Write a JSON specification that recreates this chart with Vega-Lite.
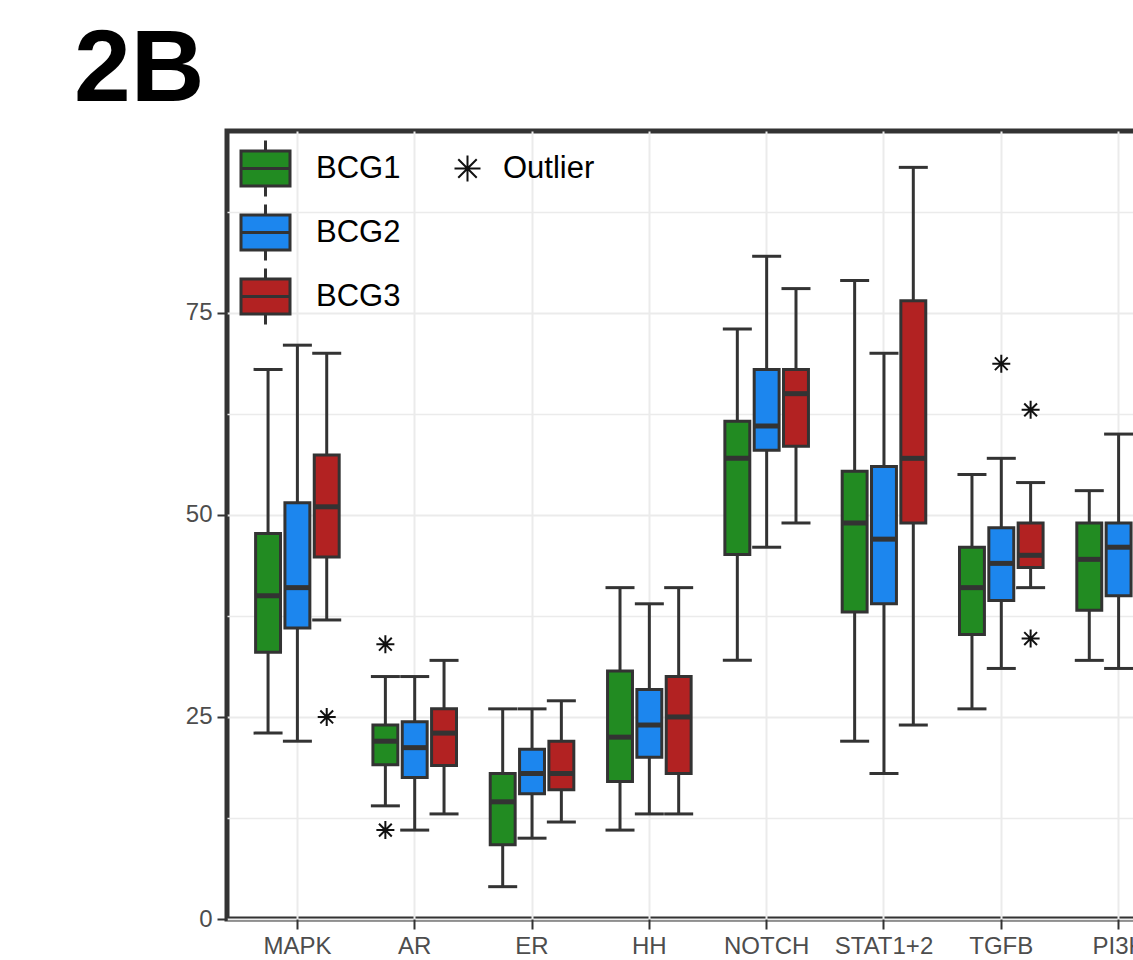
{
  "$schema": "https://vega.github.io/schema/vega-lite/v6.json",
  "autosize": {"type": "none"},
  "padding": {"left": 227, "top": 131, "right": 0, "bottom": 41},
  "width": 962,
  "height": 788,
  "background": "white",
  "title": {
    "text": "2B",
    "font": "Liberation Sans",
    "fontSize": 102,
    "fontWeight": "bold",
    "color": "black",
    "anchor": "start",
    "frame": "group",
    "baseline": "alphabetic",
    "dx": -153,
    "dy": 97,
    "offset": 25
  },
  "config": {
    "view": {"stroke": "#333333", "strokeWidth": 5},
    "font": "Liberation Sans"
  },
  "datasets": {
    "stats": [
      {"pathway": "MAPK", "group": "BCG1", "lo": 23, "q1": 33, "med": 40, "q3": 47.7, "hi": 68},
      {"pathway": "MAPK", "group": "BCG2", "lo": 22, "q1": 36, "med": 41, "q3": 51.5, "hi": 71},
      {"pathway": "MAPK", "group": "BCG3", "lo": 37, "q1": 44.8, "med": 51, "q3": 57.4, "hi": 70},
      {"pathway": "AR", "group": "BCG1", "lo": 14, "q1": 19.1, "med": 22, "q3": 24, "hi": 30},
      {"pathway": "AR", "group": "BCG2", "lo": 11, "q1": 17.5, "med": 21.2, "q3": 24.4, "hi": 30},
      {"pathway": "AR", "group": "BCG3", "lo": 13, "q1": 19, "med": 23, "q3": 26, "hi": 32},
      {"pathway": "ER", "group": "BCG1", "lo": 4, "q1": 9.2, "med": 14.5, "q3": 18, "hi": 26},
      {"pathway": "ER", "group": "BCG2", "lo": 10, "q1": 15.5, "med": 18, "q3": 21, "hi": 26},
      {"pathway": "ER", "group": "BCG3", "lo": 12, "q1": 16, "med": 18, "q3": 22, "hi": 27},
      {"pathway": "HH", "group": "BCG1", "lo": 11, "q1": 17, "med": 22.5, "q3": 30.7, "hi": 41},
      {"pathway": "HH", "group": "BCG2", "lo": 13, "q1": 20, "med": 24, "q3": 28.4, "hi": 39},
      {"pathway": "HH", "group": "BCG3", "lo": 13, "q1": 18, "med": 25, "q3": 30, "hi": 41},
      {"pathway": "NOTCH", "group": "BCG1", "lo": 32, "q1": 45.1, "med": 57, "q3": 61.6, "hi": 73},
      {"pathway": "NOTCH", "group": "BCG2", "lo": 46, "q1": 58, "med": 61, "q3": 68, "hi": 82},
      {"pathway": "NOTCH", "group": "BCG3", "lo": 49, "q1": 58.5, "med": 65, "q3": 68, "hi": 78},
      {"pathway": "STAT1+2", "group": "BCG1", "lo": 22, "q1": 38, "med": 49, "q3": 55.4, "hi": 79},
      {"pathway": "STAT1+2", "group": "BCG2", "lo": 18, "q1": 39, "med": 47, "q3": 56, "hi": 70},
      {"pathway": "STAT1+2", "group": "BCG3", "lo": 24, "q1": 49, "med": 57, "q3": 76.5, "hi": 93},
      {"pathway": "TGFB", "group": "BCG1", "lo": 26, "q1": 35.2, "med": 41, "q3": 46, "hi": 55},
      {"pathway": "TGFB", "group": "BCG2", "lo": 31, "q1": 39.4, "med": 44, "q3": 48.4, "hi": 57},
      {"pathway": "TGFB", "group": "BCG3", "lo": 41, "q1": 43.5, "med": 45, "q3": 49, "hi": 54},
      {"pathway": "PI3K", "group": "BCG1", "lo": 32, "q1": 38.2, "med": 44.5, "q3": 49, "hi": 53},
      {"pathway": "PI3K", "group": "BCG2", "lo": 31, "q1": 40, "med": 46, "q3": 49, "hi": 60}
    ],
    "outliers": [
      {"pathway": "MAPK", "group": "BCG3", "value": 25, "type": "Outlier"},
      {"pathway": "AR", "group": "BCG1", "value": 34, "type": "Outlier"},
      {"pathway": "AR", "group": "BCG1", "value": 11, "type": "Outlier"},
      {"pathway": "TGFB", "group": "BCG2", "value": 68.7, "type": "Outlier"},
      {"pathway": "TGFB", "group": "BCG3", "value": 63, "type": "Outlier"},
      {"pathway": "TGFB", "group": "BCG3", "value": 34.7, "type": "Outlier"}
    ]
  },
  "encoding": {
    "x": {
      "field": "pathway",
      "type": "nominal",
      "sort": ["MAPK", "AR", "ER", "HH", "NOTCH", "STAT1+2", "TGFB", "PI3K"],
      "scale": {"domain": ["MAPK", "AR", "ER", "HH", "NOTCH", "STAT1+2", "TGFB", "PI3K"], "paddingInner": 0, "paddingOuter": 0.1},
      "axis": {
        "title": null,
        "domain": false,
        "labelAngle": 0,
        "labelFont": "Liberation Sans",
        "labelFontSize": 24,
        "labelColor": "#4D4D4D",
        "labelPadding": 5,
        "ticks": true,
        "tickSize": 10,
        "tickWidth": 2,
        "tickColor": "#333333",
        "grid": true,
        "gridColor": "#EBEBEB",
        "gridWidth": 2,
        "bandPosition": 0.5
      }
    },
    "xOffset": {
      "field": "group",
      "type": "nominal",
      "scale": {"domain": ["BCG1", "BCG2", "BCG3"], "paddingInner": 0.15, "paddingOuter": 0.575}
    }
  },
  "layer": [
    {
      "data": {"name": "stats"},
      "mark": {"type": "rule", "color": "#333333", "strokeWidth": 3},
      "encoding": {
        "y": {
          "field": "lo",
          "type": "quantitative",
          "scale": {"domain": [0, 97.5], "nice": false, "zero": true},
          "axis": {
            "title": null,
            "domain": false,
            "values": [0, 12.5, 25, 37.5, 50, 62.5, 75, 87.5],
            "labelExpr": "datum.value % 25 === 0 ? datum.label : ''",
            "labelFont": "Liberation Sans",
            "labelFontSize": 24,
            "labelColor": "#4D4D4D",
            "labelPadding": 5,
            "tickSize": 10,
            "tickWidth": 2,
            "tickColor": "#333333",
            "tickOpacity": {"condition": {"test": "datum.value % 25 === 0", "value": 1}, "value": 0},
            "grid": true,
            "gridColor": "#EBEBEB",
            "gridWidth": {"condition": {"test": "datum.value % 25 === 0", "value": 2}, "value": 1.5}
          }
        },
        "y2": {"field": "hi"}
      }
    },
    {
      "data": {"name": "stats"},
      "mark": {"type": "bar", "stroke": "#333333", "strokeWidth": 3},
      "encoding": {
        "y": {"field": "q1", "type": "quantitative"},
        "y2": {"field": "q3"},
        "fill": {
          "field": "group",
          "type": "nominal",
          "scale": {"domain": ["BCG1", "BCG2", "BCG3"], "range": ["#228B22", "#1C86EE", "#B22222"]},
          "legend": {
            "title": null,
            "orient": "none",
            "legendX": 9,
            "legendY": 8,
            "padding": 0,
            "symbolType": "M-0.875,-0.625H0.875V0.625H-0.875Z M-0.875,0H0.875 M0,-0.625V-1 M0,0.625V1",
            "symbolSize": 3136,
            "symbolStrokeColor": "#333333",
            "symbolStrokeWidth": 3,
            "symbolOpacity": 1,
            "labelFont": "Liberation Sans",
            "labelFontSize": 31,
            "labelColor": "black",
            "labelOffset": 21,
            "rowPadding": -8
          }
        }
      }
    },
    {
      "data": {"name": "stats"},
      "mark": {"type": "tick", "color": "#333333", "size": 26, "thickness": 5, "opacity": 1},
      "encoding": {"y": {"field": "med", "type": "quantitative"}}
    },
    {
      "data": {"name": "stats"},
      "mark": {"type": "tick", "color": "#333333", "size": 29, "thickness": 3, "opacity": 1},
      "encoding": {"y": {"field": "hi", "type": "quantitative"}}
    },
    {
      "data": {"name": "stats"},
      "mark": {"type": "tick", "color": "#333333", "size": 29, "thickness": 3, "opacity": 1},
      "encoding": {"y": {"field": "lo", "type": "quantitative"}}
    },
    {
      "data": {"name": "outliers"},
      "mark": {"type": "point", "filled": false, "stroke": "#111111", "strokeWidth": 2, "size": 324, "opacity": 1},
      "encoding": {
        "y": {"field": "value", "type": "quantitative"},
        "shape": {
          "field": "type",
          "type": "nominal",
          "scale": {"domain": ["Outlier"], "range": ["M0,-1V1M-1,0H1M-0.71,-0.71L0.71,0.71M-0.71,0.71L0.71,-0.71"]},
          "legend": {
            "title": null,
            "orient": "none",
            "legendX": 225,
            "legendY": 22,
            "padding": 0,
            "symbolSize": 676,
            "symbolStrokeColor": "#111111",
            "symbolStrokeWidth": 2,
            "labelFont": "Liberation Sans",
            "labelFontSize": 31,
            "labelColor": "black",
            "labelOffset": 20
          }
        }
      }
    }
  ]
}
